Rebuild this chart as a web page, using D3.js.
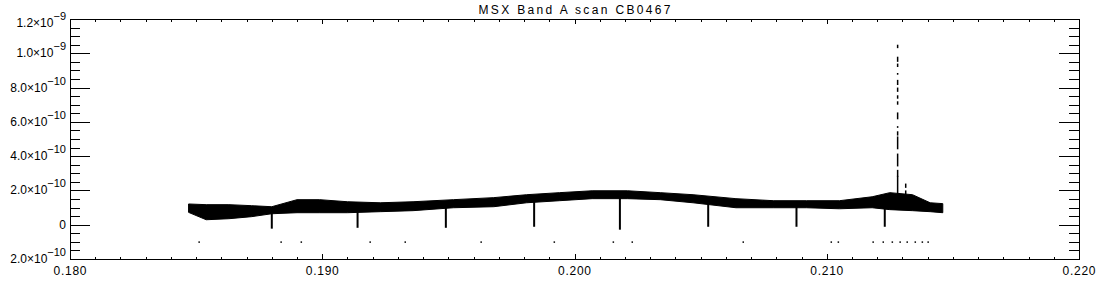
<!DOCTYPE html>
<html>
<head>
<meta charset="utf-8">
<title>MSX Band A scan CB0467</title>
<style>
  body { margin: 0; background: #fff; }
  svg text { font-family: "Liberation Sans", Arial, sans-serif; fill: #000; }
  .axis path, .axis line { stroke: #000; shape-rendering: crispEdges; }
</style>
<script src="https://d3js.org/d3.v7.min.js"></script>
</head>
<body>
<svg id="chart" width="1100" height="300"></svg>
<script>
// values in units of 1e-10 on the y side
var bandX = [0.1847, 0.1854, 0.1863, 0.1872, 0.1880, 0.1890, 0.1899, 0.1910, 0.1923, 0.1936,
             0.1952, 0.1968, 0.1981, 0.1994, 0.2007, 0.2021, 0.2034, 0.2047, 0.2064, 0.2079,
             0.2092, 0.2105, 0.2118, 0.2125, 0.2134, 0.2141, 0.2146];
var bandTop = [1.21, 1.17, 1.17, 1.11, 1.05, 1.46, 1.46, 1.34, 1.28, 1.34,
               1.46, 1.58, 1.75, 1.87, 1.98, 1.98, 1.87, 1.75, 1.52, 1.40,
               1.40, 1.40, 1.63, 1.87, 1.75, 1.28, 1.23];
var bandBottom = [0.72, 0.29, 0.35, 0.47, 0.64, 0.70, 0.70, 0.70, 0.76, 0.82,
                  0.99, 1.05, 1.28, 1.40, 1.52, 1.52, 1.46, 1.28, 0.99, 0.99,
                  0.99, 0.93, 0.99, 0.88, 0.82, 0.76, 0.70];

var dipX = [0.1880, 0.1914, 0.1949, 0.1984, 0.2018, 0.2053, 0.2088, 0.2123];
var dipMin = [-0.23, -0.18, -0.18, -0.12, -0.29, -0.12, -0.12, -0.12];

var dotX = [0.18511, 0.18836, 0.18916, 0.19189, 0.19328, 0.19629, 0.19919, 0.20153, 0.20228, 0.20668,
            0.21017, 0.21045, 0.21183, 0.21223, 0.21259, 0.21290, 0.21318, 0.21350, 0.21378, 0.21401];
var dotLevel = -1.0;

var spikeX = 0.21282;
var spikeSegments = [[10.30, 10.50], [9.50, 9.80], [9.20, 9.40], [8.75, 8.85], [8.15, 8.45],
                     [7.75, 8.00], [7.35, 7.55], [7.00, 7.20], [6.15, 6.55], [5.65, 5.75],
                     [5.20, 5.45], [4.40, 5.15], [3.40, 4.15], [2.80, 3.20], [1.50, 2.85]];
var spike2X = 0.21314;
var spike2Segments = [[1.60, 2.00], [2.15, 2.40]];

var xMajor = [0.180, 0.190, 0.200, 0.210, 0.220];
var xLabels = ["0.180", "0.190", "0.200", "0.210", "0.220"];
var yMajor = [-2, 0, 2, 4, 6, 8, 10, 12];
var yMantissa = ["2.0\u00d710", "0", "2.0\u00d710", "4.0\u00d710", "6.0\u00d710", "8.0\u00d710", "1.0\u00d710", "1.2\u00d710"];
var yExponent = ["\u221210", "", "\u221210", "\u221210", "\u221210", "\u221210", "\u22129", "\u22129"];
var title = "MSX Band A scan CB0467";

var svg = d3.select("#chart");
var plotL = 70, plotR = 1079, plotT = 19, plotB = 259;

var x = d3.scaleLinear().domain([0.180, 0.220]).range([plotL, plotR]);
var y = d3.scaleLinear().domain([-2, 12]).range([plotB, plotT]);

var xMinor = d3.range(0, 41).map(function(i) { return 0.180 + i * 0.001; });
var yMinor = d3.range(0, 29).map(function(i) { return -2 + i * 0.5; });

// axes, ticks pointing inward
function addAxis(axis, tx, ty) {
  svg.append("g").attr("class", "axis")
    .attr("transform", "translate(" + tx + "," + ty + ")")
    .call(axis)
    .call(function(g) { g.selectAll("text").remove(); g.select(".domain").remove(); });
}
addAxis(d3.axisBottom(x).tickValues(xMinor).tickSize(-2.5).tickSizeOuter(0), 0, plotB);
addAxis(d3.axisBottom(x).tickValues(xMajor).tickSize(-5).tickSizeOuter(0), 0, plotB);
addAxis(d3.axisTop(x).tickValues(xMinor).tickSize(-2.5).tickSizeOuter(0), 0, plotT);
addAxis(d3.axisTop(x).tickValues(xMajor).tickSize(-5).tickSizeOuter(0), 0, plotT);
addAxis(d3.axisLeft(y).tickValues(yMinor).tickSize(-10).tickSizeOuter(0), plotL, 0);
addAxis(d3.axisLeft(y).tickValues(yMajor).tickSize(-20).tickSizeOuter(0), plotL, 0);
addAxis(d3.axisRight(y).tickValues(yMinor).tickSize(-10).tickSizeOuter(0), plotR, 0);
addAxis(d3.axisRight(y).tickValues(yMajor).tickSize(-20).tickSizeOuter(0), plotR, 0);

svg.append("rect")
  .attr("x", plotL + 0.5).attr("y", plotT + 0.5)
  .attr("width", plotR - plotL).attr("height", plotB - plotT)
  .attr("fill", "none").attr("stroke", "#000").attr("shape-rendering", "crispEdges");

// tick labels
svg.selectAll(".xlab").data(xMajor).join("text")
  .attr("class", "xlab")
  .attr("x", function(d) { return x(d); })
  .attr("y", plotB + 16)
  .attr("text-anchor", "middle")
  .attr("font-size", 12)
  .attr("textLength", 33).attr("lengthAdjust", "spacing")
  .text(function(d, i) { return xLabels[i]; });

var ylab = svg.selectAll(".ylab").data(yMajor).join("text")
  .attr("class", "ylab")
  .attr("x", 66)
  .attr("y", function(d, i) { return y(d) + 4 + (i === yMajor.length - 1 ? 4 : 0); })
  .attr("text-anchor", "end")
  .attr("font-size", 12);
ylab.append("tspan").text(function(d, i) { return yMantissa[i]; });
ylab.append("tspan")
  .attr("dy", -7).attr("font-size", 11)
  .text(function(d, i) { return yExponent[i]; });

svg.append("text")
  .attr("x", (plotL + plotR) / 2).attr("y", 14)
  .attr("text-anchor", "middle").attr("font-size", 12)
  .attr("textLength", 192).attr("lengthAdjust", "spacing")
  .text(title);

// data
var bottomAt = d3.scaleLinear().domain(bandX).range(bandBottom);

svg.selectAll(".dip").data(dipX).join("line")
  .attr("class", "dip")
  .attr("x1", function(d) { return x(d); }).attr("x2", function(d) { return x(d); })
  .attr("y1", function(d, i) { return y(dipMin[i]); })
  .attr("y2", function(d) { return y(bottomAt(d) + 0.3); })
  .attr("stroke", "#000").attr("stroke-width", 2);

var area = d3.area()
  .x(function(d, i) { return x(bandX[i]); })
  .y0(function(d, i) { return y(bandBottom[i]); })
  .y1(function(d, i) { return y(bandTop[i]); });

svg.append("path")
  .datum(bandX)
  .attr("d", area)
  .attr("fill", "#000").attr("stroke", "#000").attr("stroke-width", 1);

svg.selectAll(".dot").data(dotX).join("rect")
  .attr("class", "dot")
  .attr("x", function(d) { return x(d) - 0.5; })
  .attr("y", y(dotLevel) - 0.5)
  .attr("width", 1.5).attr("height", 1.5)
  .attr("fill", "#000");

function drawSpike(cx, segs) {
  svg.selectAll(null).data(segs).join("rect")
    .attr("x", x(cx) - 1)
    .attr("y", function(d) { return y(d[1]); })
    .attr("width", 1.5)
    .attr("height", function(d) { return y(d[0]) - y(d[1]); })
    .attr("fill", "#000");
}
drawSpike(spikeX, spikeSegments);
drawSpike(spike2X, spike2Segments);
</script>
</body>
</html>
